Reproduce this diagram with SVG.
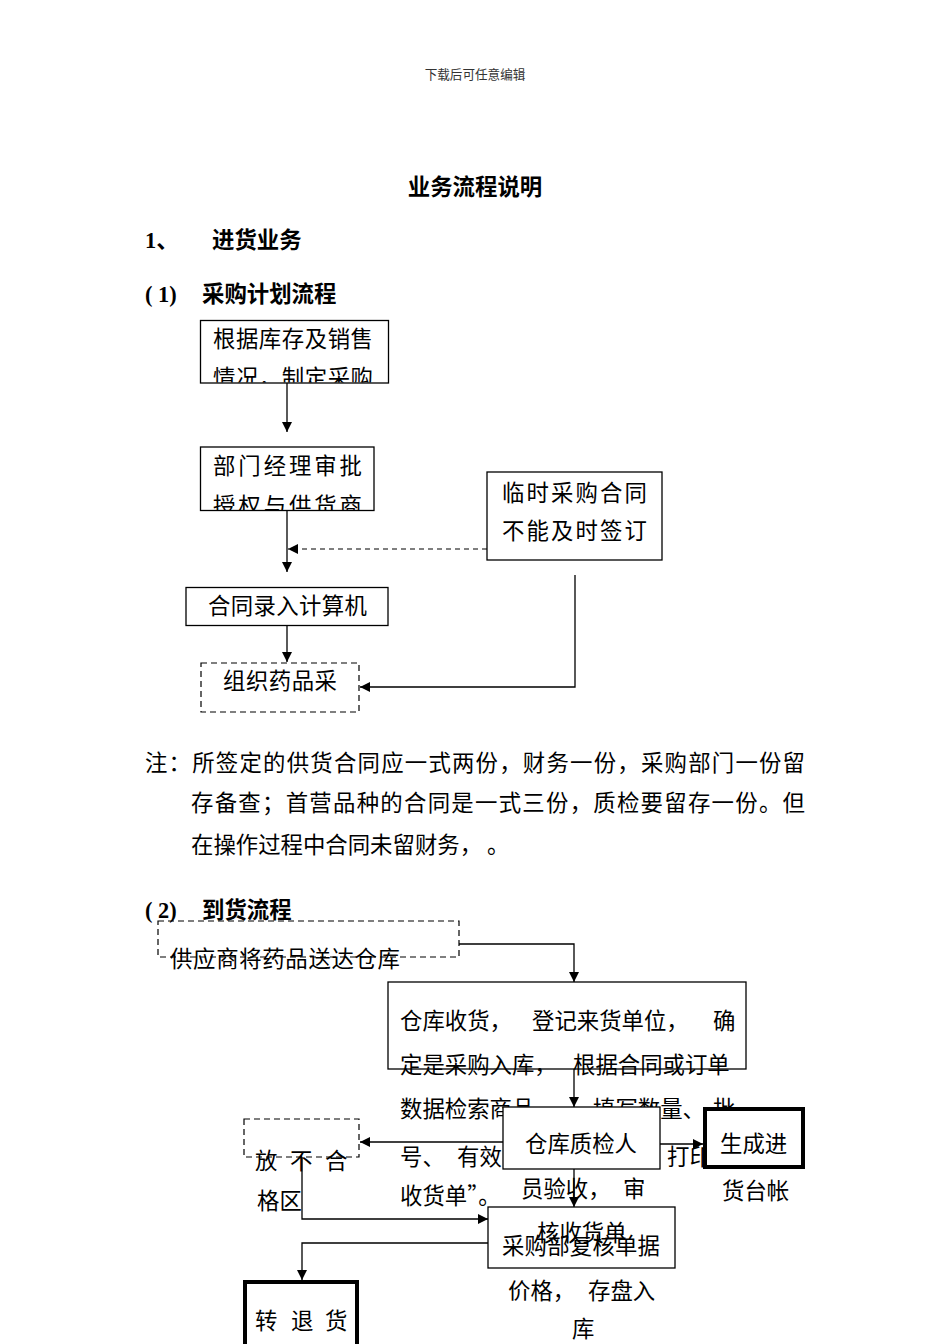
<svg xmlns="http://www.w3.org/2000/svg" width="950" height="1344" viewBox="0 0 950 1344">
<style>
.t{font-family:"Noto Sans CJK SC","Liberation Serif",sans-serif;font-size:22.4px;fill:#000}
.s{font-family:"Liberation Serif","Noto Sans CJK SC",serif;font-size:22.4px;fill:#000}
.b{font-weight:bold}
.box{fill:#fff;stroke:#000;stroke-width:1.3}
.dbox{fill:none;stroke:#000;stroke-width:1.2;stroke-dasharray:6 4}
.thick{fill:#fff;stroke:#000;stroke-width:4}
.ln{fill:none;stroke:#000;stroke-width:1.3}
.dl{fill:none;stroke:#000;stroke-width:1.2;stroke-dasharray:5 4}
</style>
<defs>
<marker id="ar" markerUnits="userSpaceOnUse" markerWidth="10" markerHeight="10" refX="10" refY="5" orient="auto" viewBox="0 0 10 10">
<path d="M0,0 L10,5 L0,10 z" fill="#000"/>
</marker>
<clipPath id="c1"><rect x="201" y="321" width="187" height="61.5"/></clipPath>
<clipPath id="c2"><rect x="201" y="448" width="173" height="62"/></clipPath>
</defs>

<g id="page-text">
<text x="475" y="79" text-anchor="middle" class="t" style="font-size:12.6px;fill:#333">下载后可任意编辑</text>
<text x="475" y="195" text-anchor="middle" class="t b">业务流程说明</text>
<text x="145" y="248" class="s b">1、</text>
<text x="212" y="248" class="t b">进货业务</text>
<text x="145" y="302" class="s b">( 1)</text>
<text x="202" y="302" class="t b">采购计划流程</text>
<text x="145" y="771" class="t" textLength="660" lengthAdjust="spacing">注：所签定的供货合同应一式两份，财务一份，采购部门一份留</text>
<text x="191" y="811" class="t" textLength="614" lengthAdjust="spacing">存备查；首营品种的合同是一式三份，质检要留存一份。但</text>
<text x="191" y="853" class="t">在操作过程中合同未留财务， 。</text>
<text x="145" y="918" class="s b">( 2)</text>
<text x="202" y="918" class="t b">到货流程</text>
</g>

<g id="n-plan">
<rect class="box" x="200.5" y="320.5" width="188" height="62.5"/>
<text x="213" y="347" class="t" textLength="160" lengthAdjust="spacing">根据库存及销售</text>
<text x="213" y="386" class="t" textLength="160" lengthAdjust="spacing" clip-path="url(#c1)">情况，制定采购</text>
</g>
<g id="n-approve">
<rect class="box" x="200.5" y="447" width="173.5" height="63.5"/>
<text x="213" y="474" class="t" textLength="149" lengthAdjust="spacing">部门经理审批</text>
<text x="213" y="514" class="t" textLength="149" lengthAdjust="spacing" clip-path="url(#c2)">授权与供货商</text>
</g>
<g id="n-temp">
<rect class="box" x="487" y="472" width="175" height="88"/>
<text x="502" y="501" class="t" textLength="145" lengthAdjust="spacing">临时采购合同</text>
<text x="502" y="539" class="t" textLength="145" lengthAdjust="spacing">不能及时签订</text>
</g>
<g id="n-input">
<rect class="box" x="186" y="587.5" width="202" height="38"/>
<text x="208" y="614" class="t" textLength="159" lengthAdjust="spacing">合同录入计算机</text>
</g>
<g id="n-organize">
<rect class="dbox" x="201" y="663" width="158" height="49"/>
<text x="223" y="689" class="t" textLength="114" lengthAdjust="spacing">组织药品采</text>
</g>

<g id="n-supplier">
<rect class="dbox" x="158" y="921" width="301" height="36"/>
<text x="170" y="967" class="t" textLength="230" lengthAdjust="spacing">供应商将药品送达仓库</text>
</g>
<g id="n-receive">
<rect class="box" x="388" y="982" width="358" height="87"/>
<text y="1029" class="t"><tspan x="400">仓库收货，</tspan><tspan x="532">登记来货单位，</tspan><tspan x="713">确</tspan></text>
<text y="1073" class="t"><tspan x="400">定是采购入库，</tspan><tspan x="573">根据合同或订单</tspan></text>
<text y="1117" class="t"><tspan x="400">数据检索商品，</tspan><tspan x="593">填写数量、</tspan><tspan x="713">批</tspan></text>
<text y="1165" class="t"><tspan x="400">号、</tspan><tspan x="457">有效</tspan><tspan x="667">打印</tspan></text>
<text y="1204" class="t"><tspan x="400">收货单”。</tspan></text>
</g>
<g id="n-review">
<rect class="box" x="488" y="1207" width="187" height="61"/>
<text x="502" y="1254" class="t" textLength="158" lengthAdjust="spacing">采购部复核单据</text>
<text y="1299" class="t"><tspan x="508">价格，</tspan><tspan x="588">存盘入</tspan></text>
<text x="572" y="1337" class="t">库</text>
</g>
<g id="n-qc">
<rect class="box" x="503" y="1107" width="157" height="62"/>
<text x="525" y="1152" class="t">仓库质检人</text>
<text y="1197" class="t"><tspan x="521">员验收，</tspan><tspan x="623">审</tspan></text>
<text x="537" y="1241" class="t">核收货单</text>
</g>
<g id="n-ledger">
<rect class="thick" x="705" y="1109" width="98" height="58"/>
<text x="720" y="1152" class="t">生成进</text>
<text x="722" y="1199" class="t">货台帐</text>
</g>
<g id="n-reject">
<rect class="dbox" x="244" y="1119" width="115" height="38"/>
<text y="1169" class="t"><tspan x="255">放</tspan><tspan x="290">不</tspan><tspan x="325">合</tspan></text>
<text x="257" y="1209" class="t">格区</text>
</g>
<g id="n-return">
<rect class="thick" x="245" y="1282" width="112" height="72"/>
<text y="1329" class="t"><tspan x="255">转</tspan><tspan x="291">退</tspan><tspan x="325">货</tspan></text>
</g>

<g id="connectors">
<path class="ln" d="M287,383 V432" marker-end="url(#ar)"/>
<path class="ln" d="M287,510.5 V572" marker-end="url(#ar)"/>
<path class="dl" d="M487,549 H288" marker-end="url(#ar)"/>
<path class="ln" d="M287,625.5 V662" marker-end="url(#ar)"/>
<path class="ln" d="M575,575 V687 H360" marker-end="url(#ar)"/>
<path class="ln" d="M459,944 H574 V982" marker-end="url(#ar)"/>
<path class="ln" d="M574,1069 V1107" marker-end="url(#ar)"/>
<path class="ln" d="M660,1144 H703" marker-end="url(#ar)"/>
<path class="ln" d="M503,1142 H360" marker-end="url(#ar)"/>
<path class="ln" d="M574,1169 V1207" marker-end="url(#ar)"/>
<path class="ln" d="M302,1157 V1219 H488" marker-end="url(#ar)"/>
<path class="ln" d="M488,1243 H302 V1280" marker-end="url(#ar)"/>
</g>
</svg>
